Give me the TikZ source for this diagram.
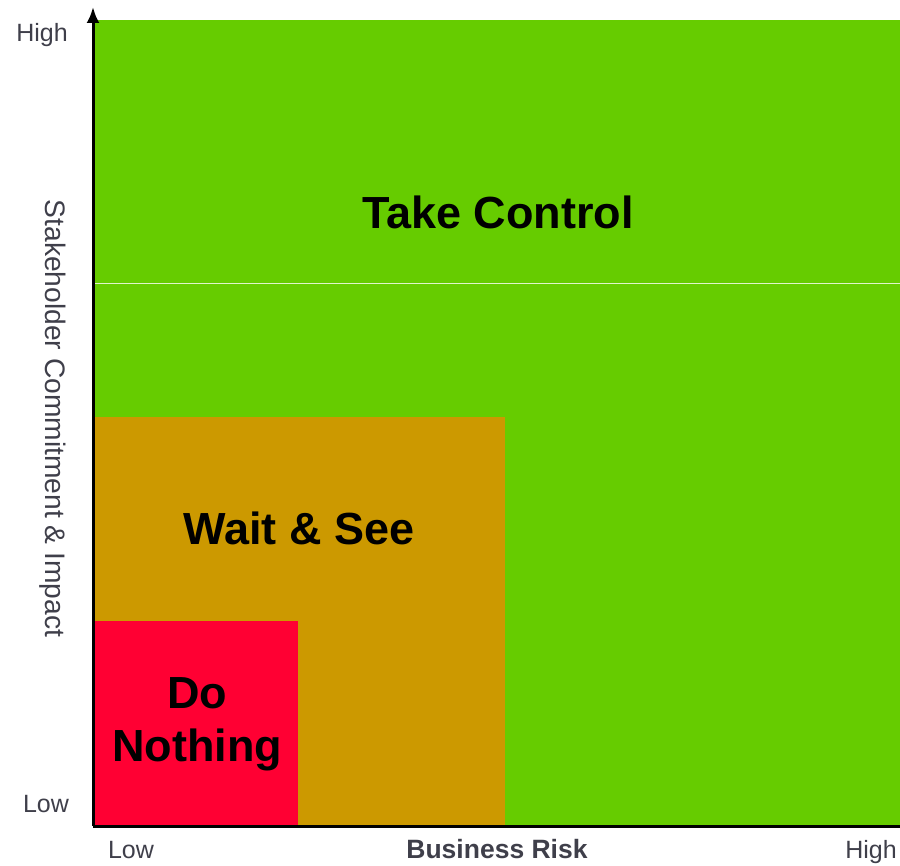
\documentclass[tikz,border=0pt]{standalone}
\usepackage{fontspec}
\setmainfont{Liberation Sans}
\usetikzlibrary{arrows.meta}
\definecolor{zgreen}{HTML}{66CC00}
\definecolor{zorange}{HTML}{CC9900}
\definecolor{zred}{HTML}{FF0033}
\definecolor{zgray}{HTML}{3F3F4A}
\tikzset{
  zone/.style={draw=none},
  biglabel/.style={font=\fontsize{45}{53}\selectfont\bfseries, text=black, align=center, inner sep=0pt},
  ticklabel/.style={font=\fontsize{25}{30}\selectfont, text=zgray, inner sep=0pt, anchor=base},
  axisline/.style={line width=3pt, black}
}
\begin{document}
\begin{tikzpicture}[x=1pt,y=-1pt]
\useasboundingbox (0,0) rectangle (900,866);
% zones
\fill[zgreen] (94,20) rectangle (900,825);
\draw[white, opacity=0.8, line width=0.6pt] (94,283) -- (900,283);
\fill[zorange] (94,417) rectangle (505,825);
\fill[zred] (94,621) rectangle (298,825);
% labels
\node[biglabel, anchor=base] (tc) at (498,229) {Take Control};
\node[biglabel, anchor=base] (ws) at (299,544) {Wait \& See};
\node[biglabel, anchor=base] (dn1) at (197,708) {Do};
\node[biglabel, anchor=base] (dn2) at (197,761) {Nothing};
% axes
\coordinate (origin) at (93,826);
\coordinate (ytop) at (93,7);
\coordinate (xend) at (900,826);
\draw[axisline, -{Latex[length=16pt,width=13pt]}] (origin) -- (ytop);
\draw[axisline] (origin) -- (xend);
% axis labels
\node[ticklabel] (yhigh) at (42,42) {High};
\node[ticklabel] (ylow) at (46,812) {Low};
\node[ticklabel] (xlow) at (131,858) {Low};
\node[ticklabel, font=\fontsize{26.5}{30}\selectfont\bfseries] (xname) at (497,858) {Business Risk};
\node[ticklabel] (xhigh) at (871,858) {High};
\node[font=\fontsize{28.2}{32}\selectfont, text=zgray, inner sep=0pt, rotate=-90] (yname) at (53,418.5) {Stakeholder Commitment \& Impact};
\end{tikzpicture}
\end{document}
